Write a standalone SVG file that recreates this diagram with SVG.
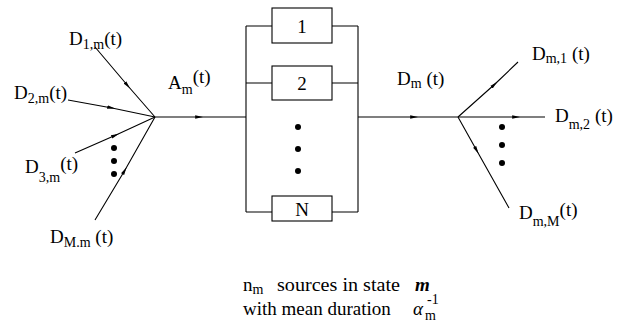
<svg xmlns="http://www.w3.org/2000/svg" width="619" height="334" viewBox="0 0 619 334">
<defs>
<style>
.ln{stroke:#000;stroke-width:1.1;fill:none}
.bx{stroke:#000;stroke-width:1.1;fill:#fff}
.t{font-family:"Liberation Serif","Times New Roman",serif;font-size:19px;fill:#000}
.s{font-size:14px}
.dot{fill:#000}
</style>
<marker id="ar" viewBox="0 0 10 6" refX="6" refY="3" markerWidth="8" markerHeight="5" markerUnits="userSpaceOnUse" orient="auto">
<path d="M0,0.8 L10,3 L0,5.2 Z" fill="#000"/>
</marker>
</defs>
<g id="connectors">
<path class="ln" d="M95,47 L128,86 L155,117" marker-mid="url(#ar)"/>
<path class="ln" d="M68,100 L112,108 L155,117" marker-mid="url(#ar)"/>
<path class="ln" d="M75,153 L116,135 L155,117" marker-mid="url(#ar)"/>
<path class="ln" d="M95,220 L125,170 L155,117" marker-mid="url(#ar)"/>
<path class="ln" d="M155,117 L200,117 L246,117" marker-mid="url(#ar)"/>
<path class="ln" d="M246,26 L246,212"/>
<path class="ln" d="M358,26 L358,212"/>
<path class="ln" d="M246,26 L272,26 M332,26 L358,26"/>
<path class="ln" d="M246,83 L272,83 M332,83 L358,83"/>
<path class="ln" d="M246,212 L272,212 M332,212 L358,212"/>
<path class="ln" d="M358,117 L415,117 L458,117" marker-mid="url(#ar)"/>
<path class="ln" d="M458,117 L495,84 L518,62" marker-mid="url(#ar)"/>
<path class="ln" d="M458,117 L517,117 L545,117" marker-mid="url(#ar)"/>
<path class="ln" d="M458,117 L477,151 L509,208" marker-mid="url(#ar)"/>
</g>
<g id="server1"><rect class="bx" x="272" y="8" width="60" height="35"/><text class="t" x="302" y="33" text-anchor="middle">1</text></g>
<g id="server2"><rect class="bx" x="272" y="66" width="60" height="34"/><text class="t" x="302" y="90" text-anchor="middle">2</text></g>
<g id="serverN"><rect class="bx" x="272" y="196" width="60" height="25"/><text class="t" x="302" y="216" text-anchor="middle">N</text></g>
<g id="dots-mid"><circle class="dot" cx="298" cy="127" r="3"/><circle class="dot" cx="298" cy="149" r="3"/><circle class="dot" cx="298" cy="171" r="3"/></g>
<g id="dots-left"><circle class="dot" cx="114" cy="148" r="3"/><circle class="dot" cx="114" cy="161" r="3"/><circle class="dot" cx="114" cy="174" r="3"/></g>
<g id="dots-right"><circle class="dot" cx="502" cy="127" r="3"/><circle class="dot" cx="502" cy="145" r="3"/><circle class="dot" cx="502" cy="163" r="3"/></g>
<g id="in1"><text class="t" x="69" y="45">D<tspan class="s" dy="4">1,m</tspan><tspan dy="-4">(t)</tspan></text></g>
<g id="in2"><text class="t" x="14" y="99">D<tspan class="s" dy="4">2,m</tspan><tspan dy="-4">(t)</tspan></text></g>
<g id="in3"><text class="t" x="25" y="173">D<tspan class="s" dy="9">3,m</tspan><tspan dy="-12">(t)</tspan></text></g>
<g id="inM"><text class="t" x="50" y="243">D<tspan class="s" dy="4">M.m</tspan><tspan dy="-4"> (t)</tspan></text></g>
<g id="arrival"><text class="t" x="168" y="89">A<tspan class="s" dy="5">m</tspan><tspan dy="-11">(t)</tspan></text></g>
<g id="departure"><text class="t" x="397" y="85">D<tspan class="s" dy="3">m</tspan><tspan dy="-3"> (t)</tspan></text></g>
<g id="out1"><text class="t" x="532" y="60">D<tspan class="s" dy="3">m,1</tspan><tspan dy="-3"> (t)</tspan></text></g>
<g id="out2"><text class="t" x="555" y="122">D<tspan class="s" dy="7">m,2</tspan><tspan dy="-7"> (t)</tspan></text></g>
<g id="outM"><text class="t" x="519" y="219">D<tspan class="s" dy="7">m,M</tspan><tspan dy="-10">(t)</tspan></text></g>
<g id="caption">
<text class="t" x="243" y="291" font-size="18">n<tspan class="s" dy="3">m</tspan></text>
<text class="t" x="277" y="291" font-size="17" textLength="123" lengthAdjust="spacingAndGlyphs">sources in state</text>
<text class="t" x="415" y="291" font-size="18" font-weight="bold" font-style="italic">m</text>
<text class="t" x="243" y="315" font-size="16">with mean duration</text>
<text class="t" x="413" y="315" font-size="19" font-style="italic">α<tspan class="s" x="425" dy="5" font-style="normal">m</tspan><tspan class="s" x="427" dy="-16" font-style="normal">-1</tspan></text>
</g>
</svg>
